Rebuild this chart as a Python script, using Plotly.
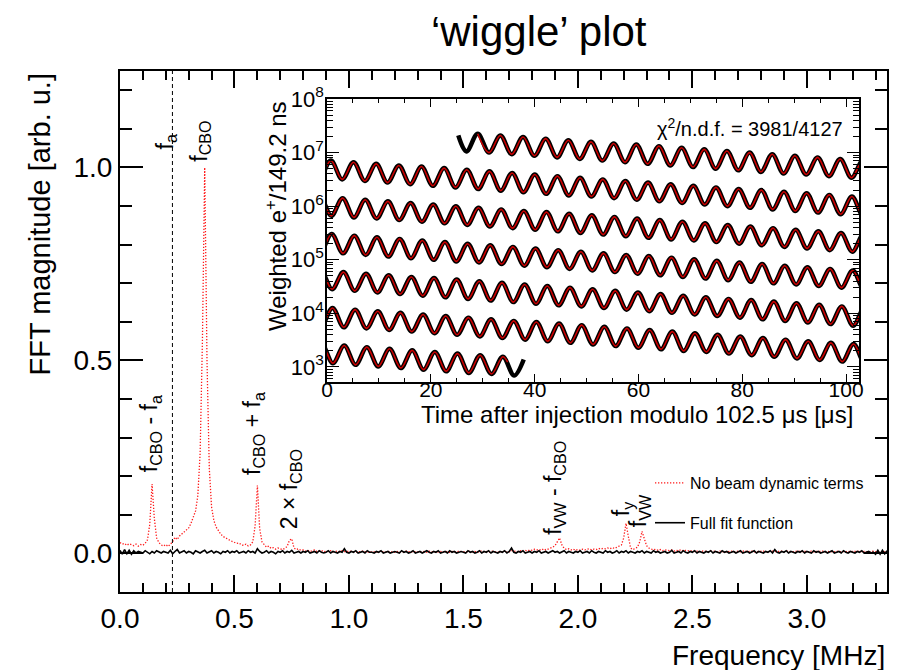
import plotly.graph_objects as go

# ------------------------------------------------------------------
# Main panel: FFT of fit residuals
# ------------------------------------------------------------------
freq_start_mhz = 0.0
freq_step_mhz = 0.01

fft_no_beam_dynamics = [
    0.028, 0.024, 0.026, 0.021, 0.025, 0.022, 0.020, 0.024, 0.019, 0.023,
    0.021, 0.026, 0.035, 0.075, 0.180, 0.090, 0.040, 0.028, 0.022, 0.019,
    0.023, 0.018, 0.024, 0.030, 0.042, 0.036, 0.045, 0.050, 0.055, 0.060,
    0.066, 0.078, 0.092, 0.110, 0.150, 0.260, 0.550, 1.000, 0.500, 0.220,
    0.120, 0.085, 0.068, 0.058, 0.050, 0.044, 0.040, 0.036, 0.034, 0.031,
    0.029, 0.026, 0.027, 0.022, 0.021, 0.024, 0.019, 0.022, 0.030, 0.070,
    0.176, 0.065, 0.030, 0.022, 0.016, 0.019, 0.013, 0.015, 0.011, 0.014,
    0.012, 0.010, 0.013, 0.018, 0.034, 0.038, 0.014, 0.010, 0.012, 0.008,
    0.009, 0.006, 0.008, 0.005, 0.007, 0.009, 0.005, 0.006, 0.008, 0.004,
    0.006, 0.005, 0.007, 0.004, 0.005, 0.006, 0.004, 0.007, 0.005, 0.004,
    0.005, 0.006, 0.004, 0.003, 0.005, 0.004, 0.006, 0.005, 0.003, 0.004,
    0.005, 0.004, 0.003, 0.005, 0.006, 0.004, 0.003, 0.005, 0.004, 0.005,
    0.003, 0.005, 0.004, 0.005, 0.003, 0.006, 0.004, 0.003, 0.005, 0.004,
    0.005, 0.003, 0.004, 0.005, 0.003, 0.006, 0.004, 0.005, 0.003, 0.004,
    0.005, 0.003, 0.006, 0.004, 0.003, 0.005, 0.004, 0.003, 0.006, 0.004,
    0.004, 0.005, 0.003, 0.006, 0.004, 0.005, 0.003, 0.004, 0.007, 0.004,
    0.005, 0.003, 0.004, 0.006, 0.004, 0.003, 0.005, 0.004, 0.006, 0.003,
    0.004, 0.008, 0.005, 0.006, 0.004, 0.007, 0.005, 0.008, 0.006, 0.009,
    0.008, 0.011, 0.009, 0.010, 0.008, 0.012, 0.009, 0.011, 0.013, 0.016,
    0.020, 0.032, 0.040, 0.022, 0.013, 0.010, 0.012, 0.009, 0.011, 0.008,
    0.010, 0.008, 0.011, 0.009, 0.010, 0.012, 0.009, 0.011, 0.010, 0.013,
    0.011, 0.013, 0.012, 0.014, 0.012, 0.015, 0.013, 0.016, 0.018, 0.022,
    0.040, 0.078, 0.045, 0.014, 0.010, 0.012, 0.016, 0.030, 0.057, 0.038,
    0.020, 0.014, 0.012, 0.009, 0.011, 0.008, 0.010, 0.007, 0.009, 0.008,
    0.007, 0.009, 0.006, 0.008, 0.007, 0.010, 0.006, 0.008, 0.007, 0.006,
    0.007, 0.005, 0.006, 0.004, 0.007, 0.005, 0.006, 0.004, 0.005, 0.006,
    0.005, 0.004, 0.006, 0.004, 0.005, 0.003, 0.005, 0.006, 0.004, 0.005,
    0.006, 0.004, 0.005, 0.007, 0.004, 0.005, 0.006, 0.004, 0.005, 0.004,
    0.005, 0.006, 0.004, 0.005, 0.004, 0.006, 0.005, 0.004, 0.005, 0.006,
    0.004, 0.005, 0.006, 0.004, 0.005, 0.004, 0.006, 0.005, 0.004, 0.005,
    0.005, 0.004, 0.006, 0.004, 0.005, 0.004, 0.005, 0.006, 0.004, 0.005,
    0.004, 0.005, 0.004, 0.006, 0.005, 0.004, 0.005, 0.004, 0.006, 0.004,
    0.005, 0.004, 0.005, 0.006, 0.004, 0.005, 0.004, 0.005, 0.004, 0.006,
    0.004, 0.005, 0.004, 0.005, 0.004, 0.005,
]

fft_full_fit = [
    0.008, -0.002, 0.010, -0.001, 0.008, -0.002, 0.007, 0.001, 0.005, 0.003,
    0.001, 0.007, 0.003, -0.001, 0.005, 0.001, 0.007, 0.003, 0.001, 0.005,
    0.003, 0.001, 0.008, -0.001, 0.005, 0.010, 0.001, 0.003, 0.007, 0.001,
    0.005, 0.003, -0.001, 0.007, 0.003, 0.001, 0.005, 0.008, 0.001, 0.003,
    0.007, 0.001, 0.005, 0.003, -0.001, 0.005, 0.003, 0.007, 0.001, 0.005,
    0.003, 0.007, 0.001, 0.003, 0.005, 0.001, 0.007, 0.003, 0.005, 0.001,
    0.012, 0.005, 0.001, 0.003, 0.007, 0.001, 0.005, 0.003, -0.001, 0.005,
    0.003, 0.007, 0.001, 0.005, 0.003, 0.008, 0.001, 0.003, 0.005, 0.001,
    0.005, 0.003, 0.007, 0.001, 0.003, 0.005, 0.001, 0.007, 0.003, 0.001,
    0.003, 0.007, 0.001, 0.005, 0.003, 0.001, 0.005, 0.003, 0.012, 0.003,
    0.001, 0.005, 0.003, 0.007, 0.001, 0.003, 0.005, 0.001, 0.007, 0.003,
    0.003, 0.001, 0.005, 0.003, 0.007, 0.001, 0.003, 0.005, 0.001, 0.003,
    0.005, 0.003, 0.001, 0.007, 0.003, 0.005, 0.001, 0.003, 0.007, 0.001,
    0.003, 0.005, 0.001, 0.003, 0.007, 0.003, 0.001, 0.005, 0.003, 0.007,
    0.001, 0.003, 0.005, 0.001, 0.007, 0.003, 0.005, 0.001, 0.003, 0.005,
    0.003, 0.001, 0.007, 0.003, 0.005, 0.001, 0.003, 0.007, 0.001, 0.005,
    0.003, 0.007, 0.001, 0.005, 0.003, 0.001, 0.005, 0.003, 0.007, 0.001,
    0.005, 0.014, 0.003, 0.001, 0.005, 0.003, 0.007, 0.001, 0.003, 0.005,
    0.001, 0.005, 0.003, 0.007, 0.001, 0.003, 0.005, 0.001, 0.003, 0.007,
    0.003, 0.005, 0.001, 0.003, 0.007, 0.001, 0.005, 0.003, 0.001, 0.005,
    0.003, 0.007, 0.001, 0.003, 0.005, 0.001, 0.007, 0.003, 0.001, 0.005,
    0.003, 0.001, 0.007, 0.003, 0.005, 0.001, 0.003, 0.007, 0.001, 0.005,
    0.003, 0.007, 0.001, 0.005, 0.003, 0.001, 0.005, 0.003, 0.007, 0.001,
    0.005, 0.003, 0.001, 0.007, 0.003, 0.005, 0.001, 0.003, 0.005, 0.001,
    0.003, 0.008, 0.001, 0.003, 0.005, 0.001, 0.007, 0.003, 0.001, 0.005,
    0.003, 0.007, 0.001, 0.005, 0.003, 0.001, 0.005, 0.003, 0.007, 0.001,
    0.005, 0.003, 0.001, 0.007, 0.003, 0.005, 0.001, 0.003, 0.005, 0.001,
    0.003, 0.007, 0.001, 0.003, 0.005, 0.001, 0.003, 0.007, 0.001, 0.005,
    0.003, 0.001, 0.005, 0.003, 0.007, 0.001, 0.010, 0.003, 0.001, 0.005,
    0.003, 0.007, 0.001, 0.005, 0.003, 0.001, 0.005, 0.003, 0.007, 0.001,
    0.005, 0.003, 0.001, 0.007, 0.003, 0.005, 0.001, 0.003, 0.005, 0.001,
    0.003, 0.007, 0.001, 0.003, 0.005, 0.001, 0.007, 0.003, 0.001, 0.005,
    0.003, 0.001, 0.005, 0.003, 0.007, 0.001, 0.003, 0.005, 0.001, 0.003,
    -0.002, 0.008, -0.002, 0.008, -0.001, 0.007,
]

f_a_mhz = 0.229

# peak labels: (text, frequency [MHz], label height [arb. u.])
peak_labels = [
    ("f<sub>CBO</sub> - f<sub>a</sub>", 0.133, 0.31),
    ("f<sub>a</sub>", 0.201, 1.065),
    ("f<sub>CBO</sub>", 0.350, 1.067),
    ("f<sub>CBO</sub> + f<sub>a</sub>", 0.586, 0.31),
    ("2 × f<sub>CBO</sub>", 0.745, 0.165),
    ("f<sub>VW</sub> - f<sub>CBO</sub>", 1.900, 0.17),
    ("f<sub>y</sub>", 2.193, 0.115),
    ("f<sub>VW</sub>", 2.272, 0.11),
]

# ------------------------------------------------------------------
# Inset: wiggle plot, extrema (log10 counts)
# ------------------------------------------------------------------
fold_period_us = 102.5
n_rows = 7
wiggle_first_peak_us = 24.675
wiggle_half_period_us = 2.1825

wiggle_peak_log10 = [
    7.38, 7.35, 7.32, 7.29, 7.26, 7.23, 7.20, 7.17, 7.15, 7.12,
    7.09, 7.06, 7.03, 7.00, 6.97, 6.94, 6.91, 6.88, 6.85, 6.82,
    6.79, 6.76, 6.74, 6.71, 6.68, 6.65, 6.62, 6.59, 6.56, 6.53,
    6.50, 6.47, 6.44, 6.41, 6.38, 6.35, 6.32, 6.30, 6.27, 6.24,
    6.21, 6.18, 6.15, 6.12, 6.09, 6.06, 6.03, 6.00, 5.97, 5.94,
    5.91, 5.89, 5.86, 5.83, 5.80, 5.77, 5.74, 5.71, 5.68, 5.65,
    5.62, 5.59, 5.56, 5.53, 5.50, 5.48, 5.45, 5.42, 5.39, 5.36,
    5.33, 5.30, 5.27, 5.24, 5.21, 5.18, 5.15, 5.12, 5.09, 5.07,
    5.04, 5.01, 4.98, 4.95, 4.92, 4.89, 4.86, 4.83, 4.80, 4.77,
    4.74, 4.71, 4.68, 4.66, 4.63, 4.60, 4.57, 4.54, 4.51, 4.48,
    4.45, 4.42, 4.39, 4.36, 4.33, 4.30, 4.27, 4.25, 4.22, 4.19,
    4.16, 4.13, 4.10, 4.07, 4.04, 4.01, 3.98, 3.95, 3.92, 3.89,
    3.86, 3.84, 3.81, 3.78, 3.75, 3.72, 3.69, 3.66, 3.63, 3.60,
    3.57, 3.54, 3.51, 3.48, 3.45, 3.43, 3.40, 3.37, 3.34, 3.31,
    3.28, 3.25, 3.22, 3.19,
]
wiggle_trough_log10 = [
    7.02, 7.00, 6.97, 6.94, 6.91, 6.88, 6.85, 6.82, 6.79, 6.76,
    6.73, 6.70, 6.67, 6.64, 6.61, 6.59, 6.56, 6.53, 6.50, 6.47,
    6.44, 6.41, 6.38, 6.35, 6.32, 6.29, 6.26, 6.23, 6.20, 6.18,
    6.15, 6.12, 6.09, 6.06, 6.03, 6.00, 5.97, 5.94, 5.91, 5.88,
    5.85, 5.82, 5.79, 5.77, 5.74, 5.71, 5.68, 5.65, 5.62, 5.59,
    5.56, 5.53, 5.50, 5.47, 5.44, 5.41, 5.38, 5.36, 5.33, 5.30,
    5.27, 5.24, 5.21, 5.18, 5.15, 5.12, 5.09, 5.06, 5.03, 5.00,
    4.97, 4.95, 4.92, 4.89, 4.86, 4.83, 4.80, 4.77, 4.74, 4.71,
    4.68, 4.65, 4.62, 4.59, 4.56, 4.54, 4.51, 4.48, 4.45, 4.42,
    4.39, 4.36, 4.33, 4.30, 4.27, 4.24, 4.21, 4.18, 4.15, 4.13,
    4.10, 4.07, 4.04, 4.01, 3.98, 3.95, 3.92, 3.89, 3.86, 3.83,
    3.80, 3.77, 3.74, 3.72, 3.69, 3.66, 3.63, 3.60, 3.57, 3.54,
    3.51, 3.48, 3.45, 3.42, 3.39, 3.36, 3.33, 3.30, 3.28, 3.25,
    3.22, 3.19, 3.16, 3.13, 3.10, 3.07, 3.04, 3.01, 2.98, 2.95,
    2.92, 2.89, 2.87, 2.84,
]
data_start_point = (25.3, 7.32)    # (time [us], log10 counts)
data_end_point = (652.9, 3.14)
fit_end_point = (649.8, 3.09)

# ------------------------------------------------------------------
# Build figure
# ------------------------------------------------------------------
freq_red = [round(freq_start_mhz + i * freq_step_mhz, 4) for i in range(len(fft_no_beam_dynamics))]
freq_blk = [round(freq_start_mhz + i * freq_step_mhz, 4) for i in range(len(fft_full_fit))]

fig = go.Figure()

fig.add_trace(go.Scatter(
    x=freq_red, y=fft_no_beam_dynamics, mode="lines",
    line=dict(color="#ff1a1a", width=1.3, dash="1.3px,1.7px"),
    name="No beam dynamic terms", legendgroup="a",
))
fig.add_trace(go.Scatter(
    x=freq_blk, y=fft_full_fit, mode="lines",
    line=dict(color="black", width=1.6),
    name="Full fit function", legendgroup="b",
))

# f_a marker line
fig.add_trace(go.Scatter(
    x=[f_a_mhz, f_a_mhz], y=[-0.1, 1.25], mode="lines",
    line=dict(color="black", width=1, dash="4px,3px"),
    showlegend=False, hoverinfo="skip",
))

# extrema sequence (peak, trough, peak, ...)
ext_t, ext_v = [], []
for i in range(len(wiggle_peak_log10)):
    ext_t.append(wiggle_first_peak_us + 2 * i * wiggle_half_period_us)
    ext_v.append(wiggle_peak_log10[i])
    ext_t.append(wiggle_first_peak_us + (2 * i + 1) * wiggle_half_period_us)
    ext_v.append(wiggle_trough_log10[i])

data_t = [data_start_point[0]] + ext_t[1:] + [data_end_point[0]]
data_v = [data_start_point[1]] + ext_v[1:] + [data_end_point[1]]
fit_t = ext_t[2:-1] + [fit_end_point[0]]
fit_v = ext_v[2:-1] + [fit_end_point[1]]


def fold(ts, vs, r):
    lo = r * fold_period_us - 5.0
    hi = (r + 1) * fold_period_us + 5.0
    xs, ys = [], []
    for t, v in zip(ts, vs):
        if lo <= t <= hi:
            xs.append(t - r * fold_period_us)
            ys.append(10 ** v)
    return xs, ys


for r in range(n_rows):
    xs, ys = fold(data_t, data_v, r)
    if xs:
        fig.add_trace(go.Scatter(
            x=xs, y=ys, mode="lines", xaxis="x2", yaxis="y2",
            line=dict(color="black", width=4.5, shape="spline", smoothing=1.0),
            showlegend=False, hoverinfo="skip",
        ))
for r in range(n_rows):
    xs, ys = fold(fit_t, fit_v, r)
    if xs:
        fig.add_trace(go.Scatter(
            x=xs, y=ys, mode="lines", xaxis="x2", yaxis="y2",
            line=dict(color="#cc0000", width=1.6, shape="spline", smoothing=1.0),
            showlegend=False, hoverinfo="skip",
        ))

FONT = "Liberation Sans, Arial, Helvetica, sans-serif"

annotations = []
for text, fx, fy in peak_labels:
    annotations.append(dict(
        x=fx, y=fy, xref="x", yref="y", text=text, textangle=-90,
        showarrow=False, xanchor="center", yanchor="middle",
        font=dict(size=23, family=FONT, color="black"),
    ))

annotations += [
    dict(text="Frequency [MHz]", x=1.0, y=-0.121, xref="paper", yref="paper",
         xanchor="right", yanchor="middle", showarrow=False,
         font=dict(size=28, family=FONT, color="black")),
    dict(text="FFT magnitude [arb. u.]", x=-0.1056, y=1.0, xref="paper", yref="paper",
         xanchor="center", yanchor="top", textangle=-90, showarrow=False,
         font=dict(size=29, family=FONT, color="black")),
    dict(text="Time after injection modulo 102.5 μs [μs]", x=0.958, y=0.3398,
         xref="paper", yref="paper", xanchor="right", yanchor="middle", showarrow=False,
         font=dict(size=24, family=FONT, color="black")),
    dict(text="Weighted e<sup>+</sup>/149.2 ns", x=0.2034, y=0.9463,
         xref="paper", yref="paper", xanchor="center", yanchor="top", textangle=-90,
         showarrow=False, font=dict(size=24, family=FONT, color="black")),
    dict(text="χ<sup>2</sup>/n.d.f. = 3981/4127", x=0.945, y=0.8906,
         xref="paper", yref="paper", xanchor="right", yanchor="middle", showarrow=False,
         font=dict(size=20, family=FONT, color="black")),
]

inset_major = [1e3, 1e4, 1e5, 1e6, 1e7, 1e8]
inset_major_text = ["10<sup>3</sup>", "10<sup>4</sup>", "10<sup>5</sup>",
                    "10<sup>6</sup>", "10<sup>7</sup>", "10<sup>8</sup>"]
inset_minor = [k * 10 ** d for d in range(2, 8) for k in range(2, 10)]

fig.update_layout(
    width=910, height=670,
    margin=dict(l=120, r=23, t=71, b=78),
    paper_bgcolor="white", plot_bgcolor="white",
    font=dict(family=FONT, color="black"),
    title=dict(text="‘wiggle’ plot", x=0.592, xref="container", xanchor="center",
               y=0.954, yref="container", yanchor="middle",
               font=dict(size=42, family=FONT, color="black")),
    showlegend=True,
    legend=dict(x=0.691, y=0.2418, xanchor="left", yanchor="top",
                bgcolor="rgba(0,0,0,0)", font=dict(size=16, family=FONT, color="black"),
                tracegroupgap=16, traceorder="grouped"),
    xaxis=dict(domain=[0, 1], range=[0, 3.35], dtick=0.5, tick0=0, tickformat=".1f",
               ticks="inside", ticklen=17, tickwidth=1.5, tickcolor="black",
               minor=dict(dtick=0.1, tick0=0, ticks="inside", ticklen=9, tickwidth=1.5,
                          tickcolor="black"),
               showline=True, linewidth=2, linecolor="black", mirror="allticks",
               showgrid=False, zeroline=False,
               tickfont=dict(size=28, family=FONT, color="black")),
    yaxis=dict(domain=[0, 1], range=[-0.1, 1.25], dtick=0.5, tick0=0, tickformat=".1f",
               ticks="inside", ticklen=23, tickwidth=1.5, tickcolor="black",
               minor=dict(dtick=0.1, tick0=0, ticks="inside", ticklen=12, tickwidth=1.5,
                          tickcolor="black"),
               showline=True, linewidth=2, linecolor="black", mirror="allticks",
               showgrid=False, zeroline=False,
               tickfont=dict(size=28, family=FONT, color="black")),
    xaxis2=dict(domain=[0.2699, 0.9635], anchor="y2", range=[0, 102.5], dtick=20, tick0=0,
                ticks="inside", ticklen=8, tickwidth=1, tickcolor="black",
                minor=dict(dtick=5, tick0=0, ticks="inside", ticklen=4, tickwidth=1,
                           tickcolor="black"),
                showline=True, linewidth=1.5, linecolor="black", mirror="allticks",
                showgrid=False, zeroline=False, ticklabelstandoff=-12,
                tickfont=dict(size=21, family=FONT, color="black")),
    yaxis2=dict(domain=[0.4031, 0.9463], anchor="x2", type="log", range=[2.72, 8],
                tickmode="array", tickvals=inset_major, ticktext=inset_major_text,
                ticks="inside", ticklen=12, tickwidth=1, tickcolor="black",
                minor=dict(tickmode="array", tickvals=inset_minor, ticks="inside",
                           ticklen=6, tickwidth=1, tickcolor="black"),
                showline=True, linewidth=1.5, linecolor="black", mirror="allticks",
                showgrid=False, zeroline=False, ticklabelstandoff=-3,
                tickfont=dict(size=22, family=FONT, color="black")),
    annotations=annotations,
)

fig.write_html("out.html")
